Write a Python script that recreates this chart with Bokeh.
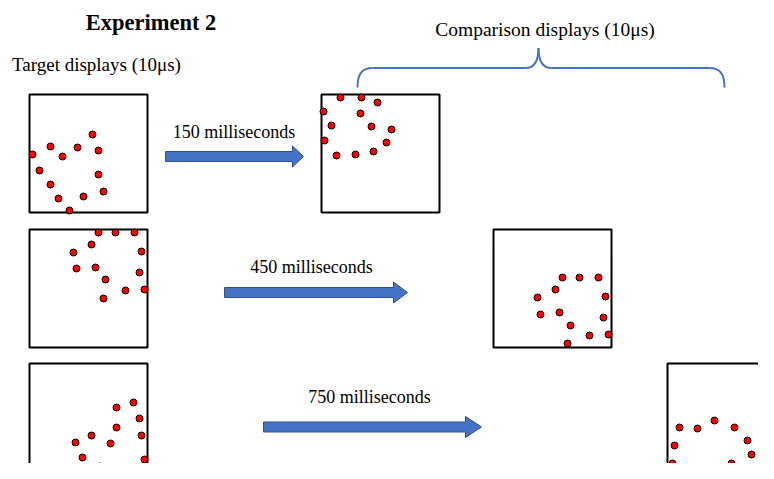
import numpy as np
from bokeh.plotting import figure
from bokeh.models import Range1d
from bokeh.core.properties import value
from bokeh.embed import file_html
from bokeh.resources import INLINE

# display boxes (pixel coords, y grows downward)
box_left = [29, 321, 29, 493, 29, 667]
box_top = [94, 94, 229, 229, 363, 363]
box_size = 118

# dot positions inside each display, relative to the box's top-left corner
dots_x = [
    [63, 21, 48, 69, 3, 33, 10, 69, 21, 74, 29, 54, 40],      # target 1
    [19, 40, 56, 2, 39, 10, 50, 70, 3, 65, 15, 34, 52],       # comparison 1
    [69, 86, 105, 62, 44, 112, 47, 66, 110, 76, 96, 115, 74],  # target 2
    [69, 86, 105, 62, 44, 112, 47, 66, 110, 77, 96, 115, 74],  # comparison 2
    [104, 87, 110, 87, 62, 112, 46, 81, 53, 115, 70, 106, 81],  # target 3
    [47, 12, 30, 67, 7, 80, 84, 5, 64, 86, 17, 36, 54],       # comparison 3
]
dots_y = [
    [40, 52, 53, 56, 60, 62, 76, 80, 90, 97, 104, 102, 116],
    [3, 3, 8, 17, 19, 31, 32, 35, 46, 48, 61, 60, 57],
    [3, 3, 3, 15, 23, 22, 39, 38, 43, 50, 61, 60, 69],
    [48, 48, 48, 60, 68, 67, 85, 83, 88, 96, 106, 105, 114],
    [39, 44, 55, 64, 72, 72, 79, 80, 94, 96, 103, 111, 114],
    [57, 64, 65, 64, 82, 77, 91, 100, 100, 108, 114, 114, 114],
]

# arrows between target and comparison displays
delays = ["150 milliseconds", "450 milliseconds", "750 milliseconds"]
arrow_start = [165, 224, 263]
arrow_tip = [303, 407, 481]
arrow_y = [156, 292, 426.5]
arrow_head = [11, 14, 16]
label_x = [233.5, 311, 369]
label_y = [131, 266, 396]

blue = "#4472C4"

p = figure(width=758, height=463, x_range=Range1d(0, 758), y_range=Range1d(463, 0),
           output_backend="svg", toolbar_location=None,
           x_axis_location=None, y_axis_location=None, min_border=0)
p.grid.visible = False
p.outline_line_color = None
p.background_fill_color = "white"
p.border_fill_color = "white"

# boxes
bl = np.array(box_left)
bt = np.array(box_top)
p.quad(left=bl, right=bl + box_size, top=bt, bottom=bt + box_size,
       fill_color=None, line_color="black", line_width=2)

# dots
for i in range(len(box_left)):
    xs = np.array(dots_x[i]) + box_left[i]
    ys = np.array(dots_y[i]) + box_top[i]
    p.scatter(xs, ys, size=7, fill_color="#FF0000", line_color="black", line_width=1)

# arrows
axs, ays = [], []
for x0, x1, yc, h in zip(arrow_start, arrow_tip, arrow_y, arrow_head):
    xb = x1 - h
    axs.append([x0, xb, xb, x1, xb, xb, x0])
    ays.append([yc - 5, yc - 5, yc - 10.5, yc, yc + 10.5, yc + 5, yc + 5])
p.patches(axs, ays, fill_color=blue, line_color="#2F528F", line_width=1)

p.text(x=label_x, y=label_y, text=delays, text_font=value("Liberation Serif"),
       text_font_size=value("18px"), text_align="center", text_baseline="alphabetic",
       text_color="black")

# headings
p.text(x=[150.5], y=[22], text=["Experiment 2"], text_font=value("Liberation Serif"),
       text_font_size=value("22.5px"), text_font_style="bold", text_align="center",
       text_baseline="alphabetic", text_color="black")
p.text(x=[11.5], y=[64], text=["Target displays (10μs)"], text_font=value("Liberation Serif"),
       text_font_size=value("19px"), text_align="left", text_baseline="alphabetic",
       text_color="black")
p.text(x=[544.5], y=[29], text=["Comparison displays (10μs)"],
       text_font=value("Liberation Serif"), text_font_size=value("19.5px"),
       text_align="center", text_baseline="alphabetic", text_color="black")

# curly brace over the comparison displays
b_left, b_right, b_tip = 357, 724, 538
b_end_y, b_mid_y, b_tip_y = 87, 67.5, 47.5
p.bezier(x0=[b_left, b_tip - 13, b_tip, b_right],
         y0=[b_end_y, b_mid_y, b_tip_y, b_end_y],
         x1=[b_left + 15, b_tip, b_tip + 13, b_right - 15],
         y1=[b_mid_y, b_tip_y, b_mid_y, b_mid_y],
         cx0=[b_left, b_tip - 4, b_tip, b_right],
         cy0=[b_mid_y + 5, b_mid_y, b_tip_y + 12, b_mid_y + 5],
         cx1=[b_left + 5, b_tip, b_tip + 4, b_right - 5],
         cy1=[b_mid_y, b_tip_y + 12, b_mid_y, b_mid_y],
         line_color=blue, line_width=2)
p.segment(x0=[b_left + 15, b_tip + 13], y0=[b_mid_y, b_mid_y],
          x1=[b_tip - 13, b_right - 15], y1=[b_mid_y, b_mid_y],
          line_color=blue, line_width=2)

open("out.html", "w").write(file_html(p, INLINE))
